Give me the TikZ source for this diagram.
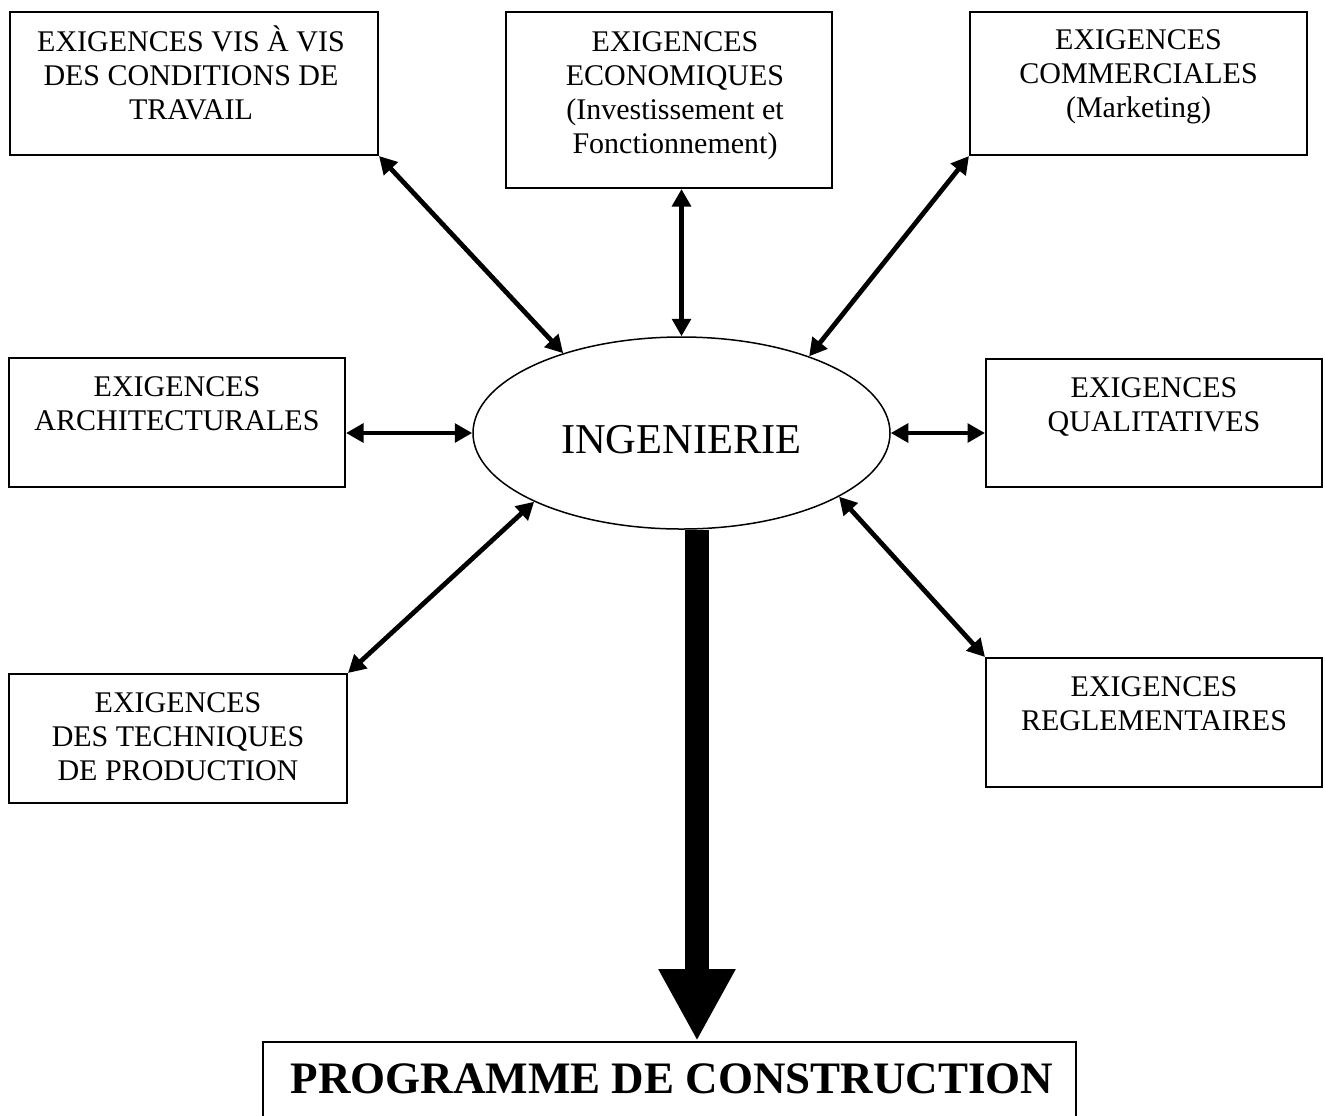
\documentclass[tikz,border=0pt]{standalone}
\usepackage{fontspec}
\setmainfont{Liberation Serif}
\usetikzlibrary{arrows.meta,positioning,shapes.geometric}

\begin{document}
\begin{tikzpicture}[x=0.4pt, y=-0.4pt,
  req/.style={draw, line width=0.8pt, inner sep=0pt, minimum width=134.4pt, minimum height=51.6pt},
  reqtext/.style={align=center, inner sep=0pt, font=\fontsize{12}{13.6}\selectfont},
  link/.style={line width=1.9pt, {Triangle[width=7.4pt,length=7pt]}-{Triangle[width=7.4pt,length=7pt]}}]
\useasboundingbox (0,0) rectangle (1325,1115);
\node[req, minimum width=147.2pt, minimum height=57.2pt] (trav) at (194,83.5) {};
\node[reqtext, below=5.6pt of trav.north, xshift=-1.2pt] (trav-t) {EXIGENCES VIS À VIS\\DES CONDITIONS DE\\TRAVAIL};
\node[req, minimum width=130.4pt, minimum height=70.4pt] (eco) at (669,100) {};
\node[reqtext, below=8.2pt of eco.north, xshift=2.4pt] (eco-t) {EXIGENCES\\ECONOMIQUES\\(Investissement et\\Fonctionnement)};
\node[req, minimum width=134.8pt, minimum height=57.2pt] (com) at (1138.5,83.5) {};
\node[reqtext, below=7.4pt of com.north] (com-t) {EXIGENCES\\COMMERCIALES\\(Marketing)};
\node[req] (arc) at (177,422.5) {};
\node[reqtext, below=7.6pt of arc.north] (arc-t) {EXIGENCES\\ARCHITECTURALES};
\node[req, minimum height=51.2pt] (qua) at (1154,423) {};
\node[reqtext, below=7.6pt of qua.north] (qua-t) {EXIGENCES\\QUALITATIVES};
\node[req, minimum width=135.2pt] (tec) at (178,738.5) {};
\node[reqtext, below=7.6pt of tec.north] (tec-t) {EXIGENCES\\DES TECHNIQUES\\DE PRODUCTION};
\node[req] (reg) at (1154,722.5) {};
\node[reqtext, below=7.6pt of reg.north] (reg-t) {EXIGENCES\\REGLEMENTAIRES};
\node[ellipse, draw, line width=0.6pt, inner sep=0pt, minimum width=166.8pt, minimum height=76.8pt,
  text height=16pt, text depth=0pt, font=\fontsize{17}{20}\selectfont] (ing) at (681.5,433) {INGENIERIE};
\node[draw, line width=0.8pt, inner sep=0pt, minimum width=325.2pt, minimum height=30.4pt] (pro) at (669.5,1080) {};
\node[inner sep=0pt, below=8.8pt of pro.north, xshift=1pt, font=\fontsize{18}{20}\selectfont\bfseries] (pro-t) {PROGRAMME DE CONSTRUCTION};
\draw[link] (trav.south east) -- (ing.146);
\draw[link] (ing.north |- eco.south) -- (ing.north);
\draw[link] (com.south west) -- (ing.31);
\draw[link] (arc.east |- ing.west) -- (ing.west);
\draw[link] (ing.east) -- (ing.east -| qua.west);
\draw[link] (tec.north east) -- (ing.205);
\draw[link] (ing.338) -- (reg.north west);
\coordinate (out) at ([xshift=6.2pt]ing.south);
\coordinate (in) at (out |- pro.north);
\draw[line width=9.6pt, -{Triangle[width=28.8pt,length=28.8pt]}] (out) -- (in);
\end{tikzpicture}
\end{document}
